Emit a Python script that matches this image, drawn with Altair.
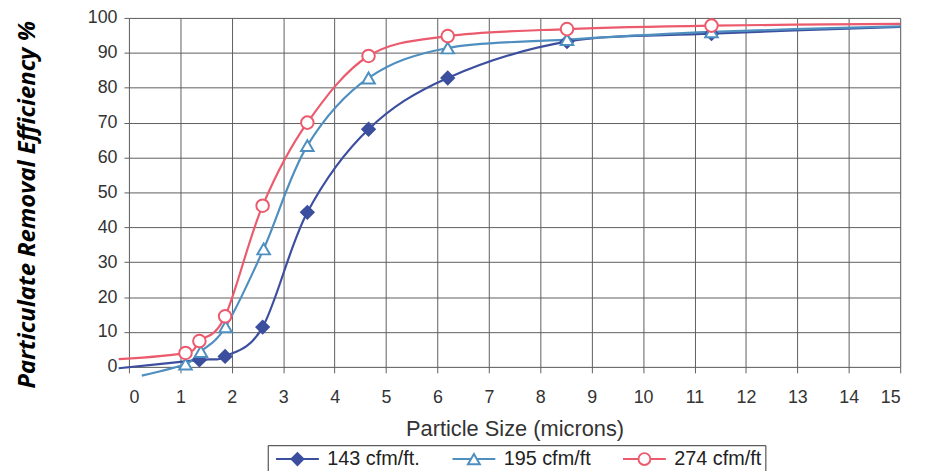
import altair as alt
import pandas as pd

series = ["143 cfm/ft.", "195 cfm/ft", "274 cfm/ft"]
colors = ["#3c4e9e", "#4f8fc0", "#ec5a6d"]
fills = ["#3c4e9e", "#ffffff", "#ffffff"]
shapes = ["diamond", "triangle-up", "circle"]

# 143 cfm/ft. (diamonds)
x_143 = [-0.2, 1.37, 1.87, 2.6, 3.47, 4.66, 6.2, 8.52, 11.33, 15.0]
y_143 = [-0.4, 2.0, 3.0, 11.4, 44.3, 68.1, 82.8, 93.2, 95.5, 97.4]
m_143 = [False, True, True, True, True, True, True, True, True, False]

# 195 cfm/ft (triangles)
x_195 = [0.25, 1.1, 1.4, 1.88, 2.62, 3.47, 4.66, 6.2, 8.52, 11.33, 15.0]
y_195 = [-2.5, 0.8, 4.4, 11.5, 33.8, 63.4, 82.8, 91.4, 93.8, 96.0, 97.6]
m_195 = [False, True, True, True, True, True, True, True, True, True, False]

# 274 cfm/ft (circles)
x_274 = [-0.2, 1.1, 1.37, 1.87, 2.6, 3.47, 4.66, 6.2, 8.52, 11.33, 15.0]
y_274 = [2.2, 4.0, 7.4, 14.5, 46.2, 70.0, 89.1, 94.8, 96.8, 97.8, 98.3]
m_274 = [False, True, True, True, True, True, True, True, True, True, False]

x_ticks = list(range(0, 16))
y_ticks = list(range(0, 101, 10))

rows = []
for name, xs, ys, ms in [(series[0], x_143, y_143, m_143),
                         (series[1], x_195, y_195, m_195),
                         (series[2], x_274, y_274, m_274)]:
    for xv, yv, mv in zip(xs, ys, ms):
        rows.append({"x": xv, "y": yv, "series": name, "marker": mv})
df = pd.DataFrame(rows)

LABEL_FONT = "Liberation Sans"

# legend symbol paths: line through marker
legend_paths = [
    "M-3.6,0H3.6M0,-1L1,0L0,1L-1,0Z",
    "M-3.6,0H-0.5M0.5,0H3.6M0,-0.87L1,0.87L-1,0.87Z",
    "M-3.6,0H-1M1,0H3.6M-1,0A1,1 0 1,1 1,0A1,1 0 1,1 -1,0Z",
]


def make_legend():
    return alt.Legend(
        orient="none", legendX=140, legendY=431, direction="horizontal",
        title=None, symbolSize=144, symbolStrokeWidth=2,
        symbolOffset=16, labelOffset=20, columnPadding=28,
        padding=4, strokeColor="#333", fillColor="#ffffff",
        labelFont=LABEL_FONT, labelFontSize=20, labelColor="#222",
    )


def x_enc():
    return alt.X(
        "x:Q",
        scale=alt.Scale(domain=[0, 15], nice=False, zero=False),
        axis=alt.Axis(
            values=x_ticks, title="Particle Size (microns)", format="d",
            grid=True, gridColor="#5e5e5e", gridWidth=1, domain=False,
            tickSize=6, tickColor="#5e5e5e", labelPadding=16,
            labelFont=LABEL_FONT, labelFontSize=18, labelColor="#333",
            titleFont=LABEL_FONT, titleFontSize=22, titleFontWeight="normal",
            titleColor="#333", titlePadding=12,
        ),
    )


def y_enc():
    return alt.Y(
        "y:Q",
        scale=alt.Scale(domain=[0, 100], nice=False, zero=False),
        axis=alt.Axis(
            values=y_ticks, title="Particulate Removal Efficiency %",
            grid=True, gridColor="#5e5e5e", gridWidth=1, domain=False,
            tickSize=5, tickColor="#5e5e5e", labelPadding=7, labelOverlap=False,
            labelFont=LABEL_FONT, labelFontSize=18, labelColor="#333",
            titleFont="Open Sans", titleFontSize=24, titleFontWeight="bold",
            titleFontStyle="italic", titleColor="#000", titlePadding=48, titleY=188,
        ),
    )


stroke_scale = alt.Scale(domain=series, range=colors)

# legend-only layer (no rows drawn)
legend_layer = alt.Chart(df).transform_filter("false").mark_point(
    filled=True, strokeWidth=2, opacity=1
).encode(
    x=x_enc(),
    y=y_enc(),
    stroke=alt.Stroke("series:N", scale=stroke_scale, legend=make_legend()),
    fill=alt.Fill("series:N", scale=alt.Scale(domain=series, range=fills), legend=make_legend()),
    shape=alt.Shape("series:N", scale=alt.Scale(domain=series, range=legend_paths), legend=make_legend()),
)

lines = alt.Chart(df).mark_line(interpolate="cardinal", strokeWidth=2.2, clip=False).encode(
    x=x_enc(),
    y=y_enc(),
    stroke=alt.Stroke("series:N", scale=stroke_scale, legend=None),
    detail="series:N",
)

point_layers = []
for name, col, fil, shp in zip(series, colors, fills, shapes):
    point_layers.append(
        alt.Chart(df).transform_filter(
            alt.datum.series == name
        ).transform_filter("datum.marker").mark_point(
            shape=shp, filled=True, fill=fil, stroke=col, strokeWidth=2,
            size=160, opacity=1, clip=False,
        ).encode(x=x_enc(), y=y_enc())
    )

chart = alt.layer(legend_layer, lines, *point_layers).properties(
    width=778, height=352,
    autosize=alt.AutoSizeParams(type="none"),
    padding={"left": 122, "top": 8, "right": 21, "bottom": 103},
).configure_view(stroke="#5e5e5e").configure(background="white")

chart.save("out.html", embed_options={"renderer": "svg", "actions": False})
